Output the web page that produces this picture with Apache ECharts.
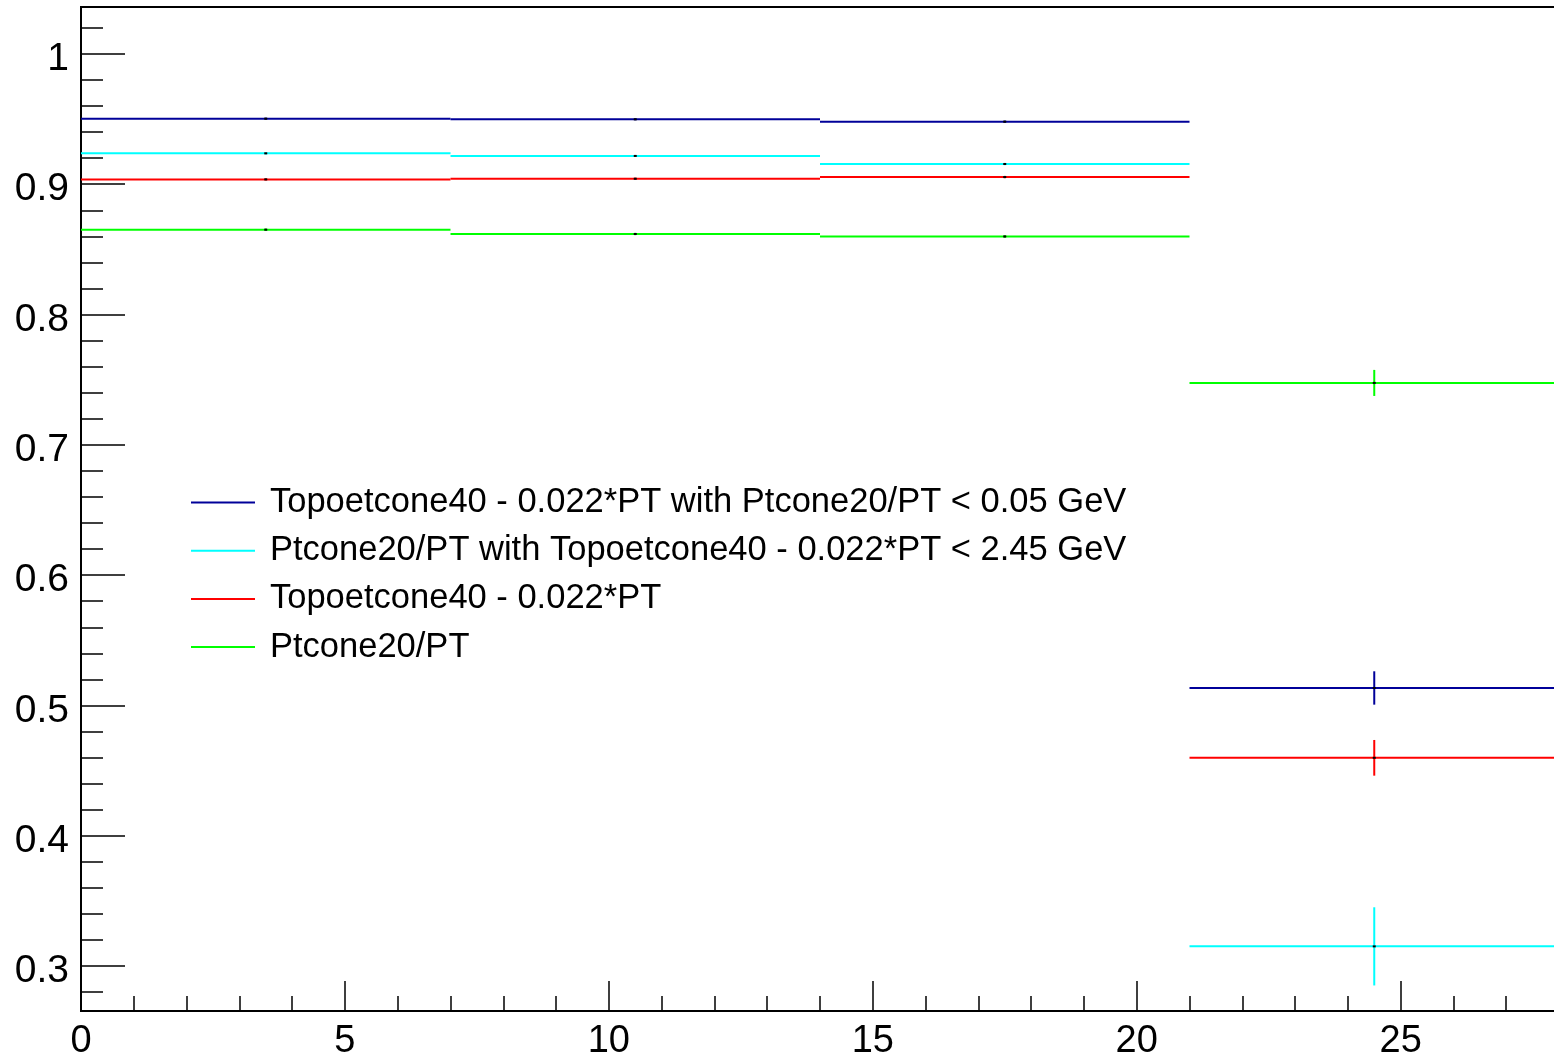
<!DOCTYPE html>
<html>
<head>
<meta charset="utf-8">
<script src="https://cdn.jsdelivr.net/npm/echarts@6/dist/echarts.min.js"></script>
<style>
  html, body {margin: 0; padding: 0; background: #fff;}
  #chart {width: 1554px; height: 1055px;}
</style>
</head>
<body>
<div id="chart"></div>
<script>
// bins in x
const binEdges = [0, 7, 14, 21, 28]

const seriesNames = [
  'Topoetcone40 - 0.022*PT with Ptcone20/PT < 0.05 GeV',
  'Ptcone20/PT with Topoetcone40 - 0.022*PT < 2.45 GeV',
  'Topoetcone40 - 0.022*PT',
  'Ptcone20/PT'
]
const seriesColors = ['#000099', '#00ffff', '#ff0000', '#00ff00']

// efficiencies per bin + errors
const topoWithPtcut = [0.9503, 0.9498, 0.9480, 0.5134]
const topoWithPtcutErr = [0.0007, 0.0007, 0.0008, 0.0128]
const ptconeWithTopocut = [0.9237, 0.9217, 0.9155, 0.3151]
const ptconeWithTopocutErr = [0.0008, 0.0008, 0.0009, 0.0300]
const topoOnly = [0.9037, 0.9042, 0.9055, 0.4598]
const topoOnlyErr = [0.0008, 0.0008, 0.0009, 0.0137]
const ptconeOnly = [0.8651, 0.8618, 0.8599, 0.7475]
const ptconeOnlyErr = [0.0009, 0.0009, 0.0010, 0.0100]

// y ticks
const yMajorTicks = [0.3, 0.4, 0.5, 0.6, 0.7, 0.8, 0.9, 1.0]
const yMinorTicks = [0.28, 0.32, 0.34, 0.36, 0.38, 0.42, 0.44, 0.46, 0.48,
  0.52, 0.54, 0.56, 0.58, 0.62, 0.64, 0.66, 0.68, 0.72, 0.74, 0.76, 0.78,
  0.82, 0.84, 0.86, 0.88, 0.92, 0.94, 0.96, 0.98, 1.02]

const yMin = 0.2655
const yMax = 1.036

const font = 'Liberation Sans, Helvetica, Arial, sans-serif'

const allValues = [topoWithPtcut, ptconeWithTopocut, topoOnly, ptconeOnly]
const allErrors = [topoWithPtcutErr, ptconeWithTopocutErr, topoOnlyErr, ptconeOnlyErr]

function histData(vals, errs) {
  return vals.map((v, i) => [binEdges[i], binEdges[i + 1], v, errs[i]])
}

function renderHist(params, api) {
  const lo = api.value(0)
  const hi = api.value(1)
  const v = api.value(2)
  const e = api.value(3)
  const mid = (lo + hi) / 2
  const pLo = api.coord([lo, v])
  const pHi = api.coord([hi, v])
  const pC = api.coord([mid, v])
  const pTop = api.coord([mid, v + e])
  const pBot = api.coord([mid, v - e])
  const color = api.visual('color')
  return {
    type: 'group',
    children: [
      {type: 'line', shape: {x1: pLo[0], y1: pLo[1], x2: pHi[0], y2: pHi[1]}, style: {stroke: color, lineWidth: 2}},
      {type: 'line', shape: {x1: pC[0], y1: pTop[1], x2: pC[0], y2: pBot[1]}, style: {stroke: color, lineWidth: 2}},
      {type: 'rect', shape: {x: pC[0] - 1.5, y: pC[1] - 1, width: 3, height: 2}, style: {fill: '#000'}}
    ]
  }
}

const chart = echarts.init(document.getElementById('chart'), null, {renderer: 'canvas'})

const option = {
  animation: false,
  backgroundColor: '#fff',
  grid: {
    left: 81, top: 7, width: 1478, height: 1004,
    outerBoundsMode: 'none',
    containLabel: false,
    show: true, borderColor: '#000', borderWidth: 2, backgroundColor: 'transparent'
  },
  legend: {
    orient: 'vertical',
    left: 186, top: 480,
    itemWidth: 64, itemHeight: 2, itemGap: 13.2,
    icon: 'rect',
    textStyle: {fontSize: 34.5, fontFamily: font, color: '#000', padding: [0, 0, 0, 10]},
    data: seriesNames
  },
  xAxis: [
    {
      type: 'value', min: 0, max: 28, interval: 5, position: 'bottom',
      axisLine: {show: true, onZero: false, lineStyle: {color: '#000', width: 2}},
      axisTick: {show: true, inside: true, length: 30, lineStyle: {color: '#000', width: 1.5}},
      axisLabel: {fontSize: 38, fontFamily: font, color: '#000', margin: 12, showMaxLabel: false},
      splitLine: {show: false}
    },
    {
      type: 'value', min: 0, max: 28, interval: 1, position: 'bottom',
      axisLine: {show: false, onZero: false},
      axisTick: {show: true, inside: true, length: 15, lineStyle: {color: '#000', width: 1.5}},
      axisLabel: {show: false},
      splitLine: {show: false}
    }
  ],
  yAxis: [
    {
      type: 'value', min: yMin, max: yMax, position: 'left',
      axisLine: {show: true, onZero: false, lineStyle: {color: '#000', width: 2}},
      axisTick: {show: true, inside: true, length: 44, customValues: yMajorTicks, lineStyle: {color: '#000', width: 1.5}},
      axisLabel: {color: '#000', margin: 12, customValues: yMajorTicks,
        formatter: v => '{v|' + String(Math.round(v * 10) / 10) + '}',
        rich: {v: {fontSize: 39, fontFamily: font, color: '#000', padding: [11, 0, 0, 0]}}},
      splitLine: {show: false}
    },
    {
      type: 'value', min: yMin, max: yMax, position: 'left',
      axisLine: {show: false, onZero: false},
      axisTick: {show: true, inside: true, length: 22, customValues: yMinorTicks, lineStyle: {color: '#000', width: 1.5}},
      axisLabel: {show: false},
      splitLine: {show: false}
    }
  ],
  series: seriesNames.map((name, k) => ({
    name: name,
    type: 'custom',
    xAxisIndex: 0,
    yAxisIndex: 0,
    renderItem: renderHist,
    itemStyle: {color: seriesColors[k]},
    encode: {x: [0, 1], y: 2},
    data: histData(allValues[k], allErrors[k])
  }))
}

chart.setOption(option)
</script>
</body>
</html>
